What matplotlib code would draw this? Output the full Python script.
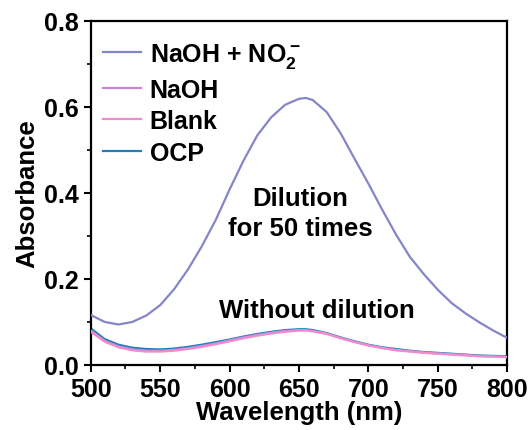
import matplotlib
matplotlib.use("Agg")
import matplotlib.pyplot as plt
from matplotlib.ticker import MultipleLocator, FormatStrFormatter

plt.rcParams['font.family'] = ['Liberation Sans', 'DejaVu Sans']
plt.rcParams['font.weight'] = 'bold'
plt.rcParams['mathtext.fontset'] = 'custom'
plt.rcParams['mathtext.rm'] = 'Liberation Sans:bold'
plt.rcParams['mathtext.bf'] = 'Liberation Sans:bold'
plt.rcParams['mathtext.default'] = 'bf'

# wavelength grid (nm)
wavelength = [500, 510, 520, 530, 540, 550, 560, 570, 580, 590, 600, 610, 620,
              630, 640, 650, 655, 660, 670, 680, 690, 700, 710, 720, 730, 740,
              750, 760, 770, 780, 790, 800]

naoh_no2 = [0.116, 0.100, 0.094, 0.100, 0.115, 0.139, 0.176, 0.222, 0.276, 0.337,
            0.408, 0.475, 0.534, 0.576, 0.605, 0.619, 0.621, 0.616, 0.588, 0.539,
            0.480, 0.422, 0.361, 0.303, 0.251, 0.211, 0.175, 0.144, 0.120, 0.099,
            0.080, 0.063]

ocp = [0.085, 0.060, 0.047, 0.040, 0.037, 0.036, 0.038, 0.042, 0.047, 0.053,
       0.059, 0.066, 0.072, 0.077, 0.081, 0.083, 0.083, 0.081, 0.074, 0.064,
       0.055, 0.047, 0.041, 0.037, 0.033, 0.030, 0.028, 0.026, 0.024, 0.022,
       0.021, 0.020]

naoh = [0.080, 0.056, 0.043, 0.036, 0.033, 0.033, 0.035, 0.039, 0.044, 0.050,
        0.057, 0.064, 0.070, 0.075, 0.079, 0.081, 0.081, 0.079, 0.073, 0.063,
        0.054, 0.046, 0.040, 0.035, 0.032, 0.029, 0.027, 0.025, 0.023, 0.021,
        0.020, 0.019]

blank = [0.077, 0.054, 0.041, 0.034, 0.031, 0.031, 0.033, 0.037, 0.042, 0.048,
         0.055, 0.062, 0.068, 0.073, 0.077, 0.080, 0.080, 0.078, 0.072, 0.062,
         0.053, 0.045, 0.039, 0.034, 0.031, 0.028, 0.026, 0.024, 0.022, 0.020,
         0.019, 0.018]

series = [
    (naoh_no2, r'NaOH + NO$_2^-$', '#8585c8', 3),
    (naoh, 'NaOH', '#c585d8', 3),
    (blank, 'Blank', '#f08ccc', 3),
    (ocp, 'OCP', '#1f80c0', 2),
]

fig = plt.figure(figsize=(5.31, 4.31), dpi=100)
ax = fig.add_axes([0.171, 0.151, 0.784, 0.798])

for values, label, color, z in series:
    ax.plot(wavelength, values, color=color, lw=1.6, label=label, zorder=z)

ax.set_xlim(500, 800)
ax.set_ylim(0, 0.8)
ax.xaxis.set_major_locator(MultipleLocator(50))
ax.xaxis.set_minor_locator(MultipleLocator(25))
ax.yaxis.set_major_locator(MultipleLocator(0.2))
ax.yaxis.set_minor_locator(MultipleLocator(0.1))
ax.yaxis.set_major_formatter(FormatStrFormatter('%.1f'))
ax.tick_params(which='major', direction='out', length=5, width=1.5,
               labelsize=18, pad=4)
ax.tick_params(which='minor', direction='out', length=3, width=1.2)
for sp in ax.spines.values():
    sp.set_linewidth(1.6)

ax.set_xlabel('Wavelength (nm)', fontsize=18.5, fontweight='bold', labelpad=-1)
ax.set_ylabel('Absorbance', fontsize=18.5, fontweight='bold', labelpad=3)

ax.legend(loc='upper left', frameon=False, fontsize=18, handlelength=1.5,
          handletextpad=0.35, labelspacing=0.3, borderaxespad=0.2,
          borderpad=0.3, bbox_to_anchor=(0.0, 0.978))

ax.text(651, 0.353, 'Dilution\nfor 50 times', fontsize=18.5, fontweight='bold',
        ha='center', va='center', linespacing=1.32)
ax.text(663, 0.127, 'Without dilution', fontsize=18.5, fontweight='bold',
        ha='center', va='center')

fig.savefig('out.png', dpi=100)
